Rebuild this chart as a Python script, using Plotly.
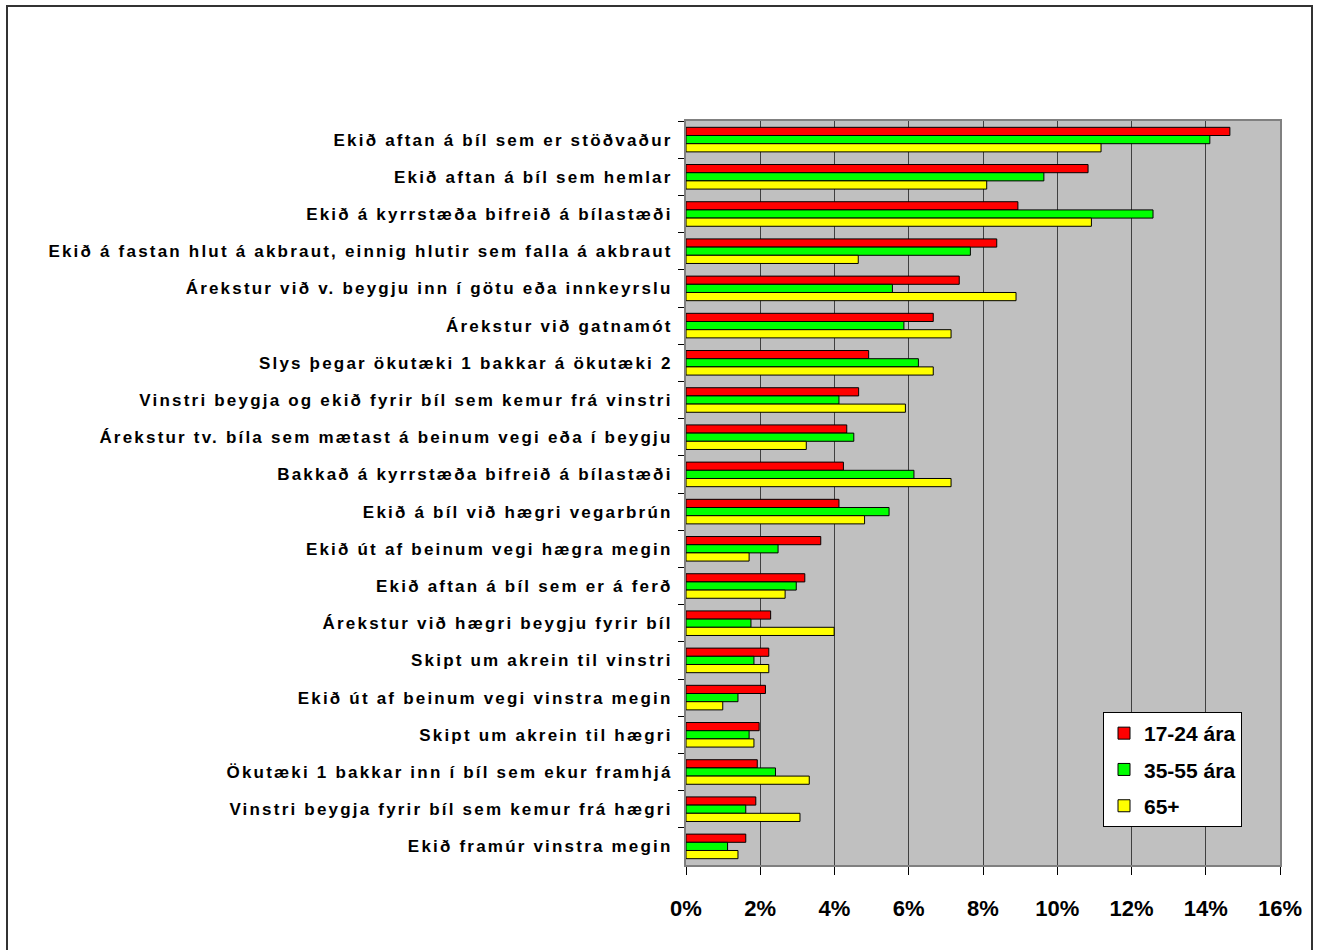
import plotly.graph_objects as go

categories = [
    "Ekið aftan á bíl sem er stöðvaður",
    "Ekið aftan á bíl sem hemlar",
    "Ekið á kyrrstæða bifreið á bílastæði",
    "Ekið á fastan hlut á akbraut, einnig hlutir sem falla á akbraut",
    "Árekstur við v. beygju inn í götu eða innkeyrslu",
    "Árekstur við gatnamót",
    "Slys þegar ökutæki 1 bakkar á ökutæki 2",
    "Vinstri beygja og ekið fyrir bíl sem kemur frá vinstri",
    "Árekstur tv. bíla sem mætast á beinum vegi eða í beygju",
    "Bakkað á kyrrstæða bifreið á bílastæði",
    "Ekið á bíl við hægri vegarbrún",
    "Ekið út af beinum vegi hægra megin",
    "Ekið aftan á bíl sem er á ferð",
    "Árekstur við hægri beygju fyrir bíl",
    "Skipt um akrein til vinstri",
    "Ekið út af beinum vegi vinstra megin",
    "Skipt um akrein til hægri",
    "Ökutæki 1 bakkar inn í bíl sem ekur framhjá",
    "Vinstri beygja fyrir bíl sem kemur frá hægri",
    "Ekið framúr vinstra megin",
]

age_17_24 = [14.65, 10.83, 8.94, 8.37, 7.36, 6.66, 4.92, 4.65, 4.33, 4.24,
             4.12, 3.63, 3.20, 2.28, 2.23, 2.14, 1.97, 1.92, 1.88, 1.61]
age_35_55 = [14.11, 9.64, 12.58, 7.66, 5.56, 5.87, 6.26, 4.12, 4.52, 6.14,
             5.47, 2.48, 2.97, 1.75, 1.83, 1.40, 1.70, 2.41, 1.61, 1.12]
age_65 = [11.18, 8.10, 10.92, 4.64, 8.89, 7.14, 6.66, 5.91, 3.24, 7.14,
          4.81, 1.70, 2.67, 3.99, 2.23, 0.99, 1.83, 3.32, 3.07, 1.40]

series_names = ["17-24 ára", "35-55 ára", "65+"]
series_values = [age_17_24, age_35_55, age_65]
series_colors = ["#FF0000", "#00FF00", "#FFFF00"]

x_ticks = [0, 2, 4, 6, 8, 10, 12, 14, 16]
x_tick_labels = ["0%", "2%", "4%", "6%", "8%", "10%", "12%", "14%", "16%"]

FONT = "Liberation Sans, Arial, sans-serif"

fig = go.Figure()
for i, (name, vals, col) in enumerate(zip(series_names, series_values, series_colors)):
    fig.add_trace(go.Bar(
        y=categories, x=vals, name=name, orientation="h",
        marker=dict(color=col, line=dict(color="#000000", width=1)),
        legendgroup=f"g{i}",
    ))

W, H = 1322, 950
ml, mr, mt, mb = 686, 42, 121, 85
pw, ph = W - ml - mr, H - mt - mb

def px_x(x):
    return (x - ml) / pw

def px_y(y):
    return (H - mb - y) / ph

fig.update_layout(
    width=W, height=H,
    margin=dict(l=ml, r=mr, t=mt, b=mb, pad=0),
    paper_bgcolor="#FFFFFF",
    plot_bgcolor="#C0C0C0",
    barmode="group",
    bargap=0.34,
    bargroupgap=0,
    font=dict(family=FONT, color="#000000"),
    showlegend=True,
    legend=dict(
        x=px_x(1103), y=px_y(712), xanchor="left", yanchor="top",
        bgcolor="#FFFFFF", bordercolor="#000000", borderwidth=1,
        font=dict(family=FONT, size=21, weight="bold", color="#000000"),
        tracegroupgap=6,
        traceorder="grouped",
    ),
    xaxis=dict(
        range=[0, 16], tickvals=x_ticks, ticktext=x_tick_labels,
        showgrid=True, gridcolor="#404040", gridwidth=1,
        ticks="outside", ticklen=8, tickcolor="#000000",
        showline=True, linecolor="#808080", linewidth=2, mirror=True,
        tickfont=dict(family=FONT, size=22, weight="bold"),
        ticklabelstandoff=15,
        zeroline=False,
    ),
    yaxis=dict(
        autorange="reversed", type="category",
        tickson="boundaries", ticks="outside", ticklen=6, tickcolor="#000000",
        showline=True, linecolor="#808080", linewidth=2, mirror=True,
        showgrid=False,
        tickfont=dict(family=FONT, size=17, weight="bold"),
        ticklabelstandoff=8,
    ),
    shapes=[dict(
        type="rect", xref="paper", yref="paper",
        x0=px_x(7), x1=px_x(1312), y0=px_y(953), y1=px_y(6),
        line=dict(color="#333333", width=2), fillcolor="rgba(0,0,0,0)",
        layer="above",
    )],
)

post = """
function spaceText(){
  document.querySelectorAll('.ytick text').forEach(function(t){ t.style.letterSpacing='2.2px'; });
}
spaceText();
var gd = document.getElementById('{plot_id}');
if (gd && gd.on) { gd.on('plotly_afterplot', spaceText); }
"""

fig.write_html("out.html", post_script=post)
